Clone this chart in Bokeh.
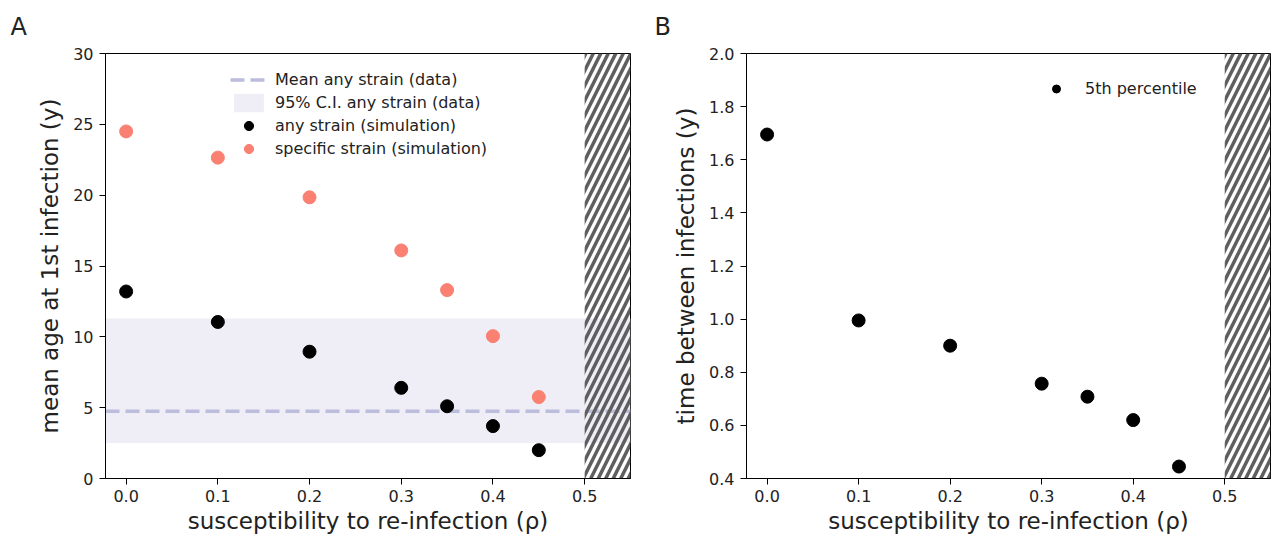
from bokeh.plotting import figure
from bokeh.layouts import row
from bokeh.models import Range1d, FixedTicker, PrintfTickFormatter, Legend, LegendItem
from bokeh.embed import file_html
from bokeh.resources import INLINE

# ---- data ----
rho = [0.0, 0.1, 0.2, 0.3, 0.35, 0.4, 0.45]
age_any = [13.2, 11.05, 8.95, 6.4, 5.1, 3.7, 2.0]
age_specific = [24.5, 22.65, 19.85, 16.1, 13.3, 10.05, 5.75]
mean_any_data = 4.75
ci_low, ci_high = 2.5, 11.3
gap_5th = [1.695, 0.995, 0.9, 0.757, 0.708, 0.62, 0.445]
excluded = [0.5, 0.55]

xlim = (-0.0225, 0.55)
x_ticks = [0.0, 0.1, 0.2, 0.3, 0.4, 0.5]
yA_ticks = [0, 5, 10, 15, 20, 25, 30]
yB_ticks = [0.4, 0.6, 0.8, 1.0, 1.2, 1.4, 1.6, 1.8, 2.0]

FONT = "DejaVu Sans"
TXT = "#222222"


def style(p, yticks, yfmt, letter):
    p.grid.visible = False
    p.outline_line_color = "black"
    p.outline_line_width = 1
    for ax in (p.xaxis[0], p.yaxis[0]):
        ax.axis_line_color = "black"
        ax.major_tick_line_color = "black"
        ax.major_tick_out = 6
        ax.major_tick_in = 0
        ax.minor_tick_line_color = None
        ax.major_label_text_font = FONT
        ax.major_label_text_font_size = "16px"
        ax.major_label_text_color = TXT
        ax.axis_label_text_font = FONT
        ax.axis_label_text_font_size = "23px"
        ax.axis_label_text_font_style = "normal"
        ax.axis_label_text_color = TXT
    p.xaxis.major_label_standoff = 5
    p.yaxis.major_label_standoff = 6
    p.xaxis.ticker = FixedTicker(ticks=x_ticks)
    p.xaxis.formatter = PrintfTickFormatter(format="%.1f")
    p.yaxis.ticker = FixedTicker(ticks=yticks)
    p.yaxis.formatter = PrintfTickFormatter(format=yfmt)
    p.xaxis.axis_label = "susceptibility to re-infection (ρ)"
    p.xaxis.axis_label_standoff = 3
    p.yaxis.axis_label_standoff = 7
    p.title.text = letter
    p.title.align = "left"
    p.title.vertical_align = "top"
    p.title.text_font = FONT
    p.title.text_font_size = "24px"
    p.title.text_font_style = "normal"
    p.title.text_color = TXT
    p.title.standoff = 21


LEG = dict(border_line_color=None, background_fill_alpha=0,
           label_text_font=FONT, label_text_font_size="16px", label_text_color=TXT,
           glyph_height=23, label_height=23, spacing=0, padding=5)

# ---- panel A ----
pA = figure(width=640, height=536, output_backend="svg", toolbar_location=None,
            x_range=Range1d(*xlim), y_range=Range1d(0, 30),
            min_border_left=105, min_border_right=10, min_border_top=53, min_border_bottom=58)
style(pA, yA_ticks, "%d", "A")
pA.title.offset = -95
pA.yaxis.axis_label = "mean age at 1st infection (y)"

r_ci = pA.quad(left=[xlim[0]], right=[xlim[1]], bottom=[ci_low], top=[ci_high],
               fill_color="#efedf5", line_color=None)
r_mean = pA.line(x=list(xlim), y=[mean_any_data, mean_any_data], line_color="#bcbddc",
                 line_width=3.5, line_dash="14 6")
pA.quad(left=[excluded[0]], right=[excluded[1]], bottom=[0], top=[30], fill_color=None,
        line_color=None, hatch_pattern="/", hatch_color="#5f5f5f", hatch_weight=3.5, hatch_scale=15)
r_any = pA.scatter(rho, age_any, size=13, color="black")
r_spec = pA.scatter(rho, age_specific, size=13, color="#fa8072")

legA = Legend(items=[
    LegendItem(label="Mean any strain (data)", renderers=[r_mean]),
    LegendItem(label="95% C.I. any strain (data)", renderers=[r_ci]),
    LegendItem(label="any strain (simulation)", renderers=[r_any]),
    LegendItem(label="specific strain (simulation)", renderers=[r_spec]),
], location=(125, 318), glyph_width=37, label_standoff=8, **LEG)
pA.add_layout(legA, "center")

# ---- panel B ----
pB = figure(width=631, height=536, output_backend="svg", toolbar_location=None,
            x_range=Range1d(*xlim), y_range=Range1d(0.4, 2.0),
            min_border_left=106, min_border_right=1, min_border_top=53, min_border_bottom=58)
style(pB, yB_ticks, "%.1f", "B")
pB.title.offset = -92
pB.yaxis.axis_label = "time between infections (y)"
pB.quad(left=[excluded[0]], right=[excluded[1]], bottom=[0.4], top=[2.0], fill_color=None,
        line_color=None, hatch_pattern="/", hatch_color="#5f5f5f", hatch_weight=3.5, hatch_scale=15)
r_5 = pB.scatter(rho, gap_5th, size=13, color="black")
legB = Legend(items=[LegendItem(label="5th percentile", renderers=[r_5])],
              location=(300, 378), glyph_width=20, label_standoff=19, **LEG)
pB.add_layout(legB, "center")

layout = row(pA, pB)
open("out.html", "w").write(file_html(layout, INLINE))
